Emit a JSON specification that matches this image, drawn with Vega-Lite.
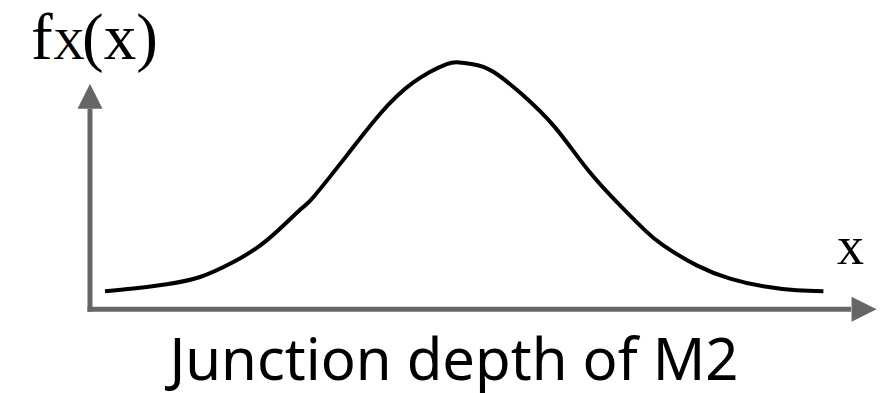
{
  "$schema": "https://vega.github.io/schema/vega-lite/v6.json",
  "width": 886,
  "height": 393,
  "autosize": {"type": "fit", "contains": "padding"},
  "padding": 0,
  "background": "white",
  "config": {"view": {"stroke": null}},
  "datasets": {
    "curve": [
      {"depth": -3.416, "density": 0.0313},
      {"depth": -3.145, "density": 0.036},
      {"depth": -2.826, "density": 0.0435},
      {"depth": -2.507, "density": 0.0562},
      {"depth": -2.188, "density": 0.0823},
      {"depth": -1.869, "density": 0.12},
      {"depth": -1.55, "density": 0.1734},
      {"depth": -1.423, "density": 0.1953},
      {"depth": -1.104, "density": 0.2678},
      {"depth": -0.785, "density": 0.3403},
      {"depth": -0.466, "density": 0.3953},
      {"depth": -0.146, "density": 0.4273},
      {"depth": 0.0, "density": 0.4296},
      {"depth": 0.252, "density": 0.4186},
      {"depth": 0.571, "density": 0.3751},
      {"depth": 0.89, "density": 0.317},
      {"depth": 1.209, "density": 0.2417},
      {"depth": 1.528, "density": 0.1779},
      {"depth": 1.751, "density": 0.1374},
      {"depth": 1.926, "density": 0.1113},
      {"depth": 2.246, "density": 0.0765},
      {"depth": 2.565, "density": 0.0534},
      {"depth": 2.883, "density": 0.04},
      {"depth": 3.203, "density": 0.033},
      {"depth": 3.458, "density": 0.0313}
    ],
    "axes": [
      {"x": -3.56, "y": -0.0044, "x2": -3.56, "y2": 0.3496},
      {"x": -3.584, "y": 0, "x2": 3.722, "y2": 0}
    ],
    "arrows": [
      {"x": -3.56, "y": 0.3713, "dir": "up"},
      {"x": 3.847, "y": 0, "dir": "right"}
    ],
    "labels": [
      {"x": -4.124, "y": 0.4365, "text": "f", "kind": "big"},
      {"x": -3.914, "y": 0.4365, "text": "X", "kind": "sub"},
      {"x": -3.636, "y": 0.4365, "text": "(x)", "kind": "big"},
      {"x": 3.589, "y": 0.0783, "text": "x", "kind": "xl"}
    ],
    "title": [
      {"x": -0.077, "y": -0.1235, "text": "Junction depth of M2"}
    ]
  },
  "layer": [
    {
      "data": {"name": "axes"},
      "mark": {"type": "rule", "color": "#666666", "strokeWidth": 5},
      "encoding": {
        "x": {"field": "x", "type": "quantitative", "scale": {"domain": [-4.421, 4.057], "nice": false, "zero": false}, "axis": null},
        "y": {"field": "y", "type": "quantitative", "scale": {"domain": [-0.1443, 0.5391], "nice": false, "zero": false}, "axis": null},
        "x2": {"field": "x2"},
        "y2": {"field": "y2"}
      }
    },
    {
      "data": {"name": "arrows"},
      "transform": [{"filter": "datum.dir === 'up'"}],
      "mark": {"type": "point", "shape": "M0,-1L-1,1L1,1Z", "size": 625, "filled": true, "color": "#666666", "opacity": 1},
      "encoding": {
        "x": {"field": "x", "type": "quantitative"},
        "y": {"field": "y", "type": "quantitative"}
      }
    },
    {
      "data": {"name": "arrows"},
      "transform": [{"filter": "datum.dir === 'right'"}],
      "mark": {"type": "point", "shape": "M1,0L-1,-1L-1,1Z", "size": 625, "filled": true, "color": "#666666", "opacity": 1},
      "encoding": {
        "x": {"field": "x", "type": "quantitative"},
        "y": {"field": "y", "type": "quantitative"}
      }
    },
    {
      "data": {"name": "curve"},
      "mark": {"type": "line", "color": "black", "strokeWidth": 4, "interpolate": "natural"},
      "encoding": {
        "x": {"field": "depth", "type": "quantitative"},
        "y": {"field": "density", "type": "quantitative"}
      }
    },
    {
      "data": {"name": "labels"},
      "transform": [{"filter": "datum.kind === 'big'"}],
      "mark": {"type": "text", "font": "Liberation Serif", "fontSize": 65, "align": "left", "baseline": "alphabetic", "color": "black"},
      "encoding": {
        "x": {"field": "x", "type": "quantitative"},
        "y": {"field": "y", "type": "quantitative"},
        "text": {"field": "text"}
      }
    },
    {
      "data": {"name": "labels"},
      "transform": [{"filter": "datum.kind === 'sub'"}],
      "mark": {"type": "text", "font": "Liberation Serif", "fontSize": 44, "align": "left", "baseline": "alphabetic", "color": "black"},
      "encoding": {
        "x": {"field": "x", "type": "quantitative"},
        "y": {"field": "y", "type": "quantitative"},
        "text": {"field": "text"}
      }
    },
    {
      "data": {"name": "labels"},
      "transform": [{"filter": "datum.kind === 'xl'"}],
      "mark": {"type": "text", "font": "Liberation Serif", "fontSize": 54, "align": "left", "baseline": "alphabetic", "color": "black"},
      "encoding": {
        "x": {"field": "x", "type": "quantitative"},
        "y": {"field": "y", "type": "quantitative"},
        "text": {"field": "text"}
      }
    },
    {
      "data": {"name": "title"},
      "mark": {"type": "text", "font": "Noto Sans", "fontSize": 58, "align": "center", "baseline": "alphabetic", "color": "black"},
      "encoding": {
        "x": {"field": "x", "type": "quantitative"},
        "y": {"field": "y", "type": "quantitative"},
        "text": {"field": "text"}
      }
    }
  ]
}
